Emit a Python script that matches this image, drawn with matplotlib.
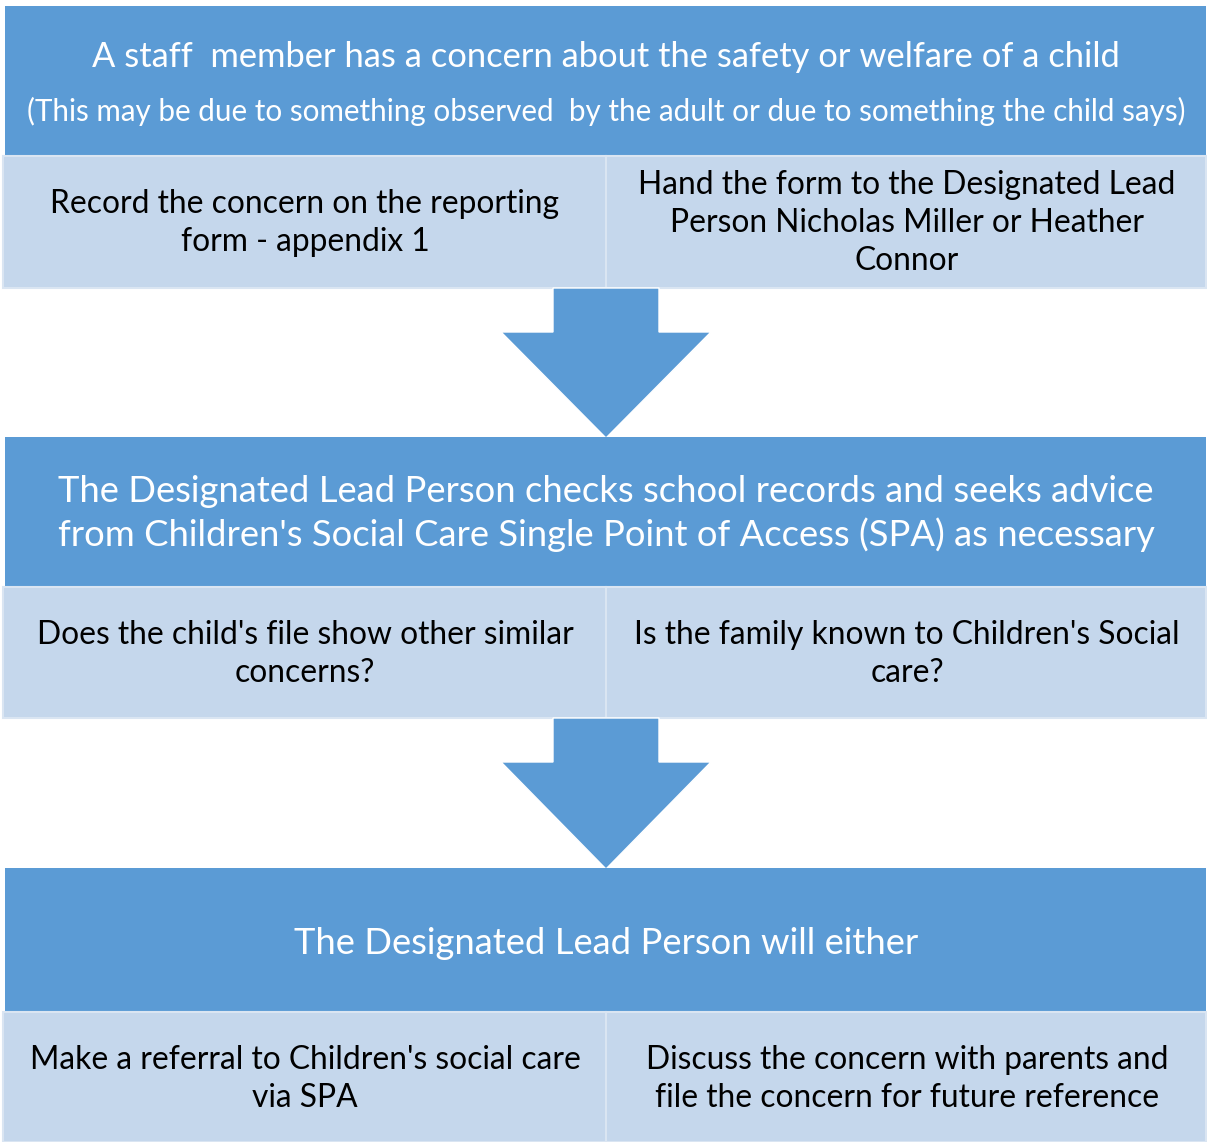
import matplotlib.pyplot as plt
from matplotlib.patches import Rectangle, Polygon

# -----------------------------------------------------------------------------
# Flowchart text
# -----------------------------------------------------------------------------

step_titles = [
    ["A staff  member has a concern about the safety or welfare of a child",
     "(This may be due to something observed  by the adult or due to something the child says)"],
    ["The Designated Lead Person checks school records and seeks advice",
     "from Children's Social Care Single Point of Access (SPA) as necessary"],
    ["The Designated Lead Person will either"],
]

left_notes = [
    ["Record the concern on the reporting", "form - appendix 1"],
    ["Does the child's file show other similar", "concerns?"],
    ["Make a referral to Children's social care", "via SPA"],
]

right_notes = [
    ["Hand the form to the Designated Lead", "Person Nicholas Miller or Heather", "Connor"],
    ["Is the family known to Children's Social", "care?"],
    ["Discuss the concern with parents and", "file the concern for future reference"],
]

DARK = "#5B9BD5"
LIGHT = "#C5D7EC"
EDGE = "#DAE5F2"
FONT = ["Lato", "DejaVu Sans"]

W, H = 1207, 1142

# (dark top, dark bottom, light bottom) for each step, in pixels
rows = [(6, 156, 288), (437, 587, 718), (868, 1012, 1142)]
# title line y-positions, and note line y-positions
title_y = [[57, 111], [491, 535], [943]]
title_size = [[24.8, 21.3], [26.2, 26.2], [26.2]]
note_size = 22.9
left_y = [[204, 242], [635, 673], [1060, 1098]]
right_y = [[185, 223, 261], [635, 673], [1060, 1098]]
split_x = 606


def main():
    fig = plt.figure(figsize=(W / 100, H / 100), dpi=100)
    ax = fig.add_axes([0, 0, 1, 1])
    ax.set_xlim(0, W)
    ax.set_ylim(H, 0)
    ax.axis("off")

    for i, (top, mid, bot) in enumerate(rows):
        ax.add_patch(Rectangle((5, top), W - 6, mid - top, facecolor=DARK,
                               edgecolor="none"))
        ax.add_patch(Rectangle((3, mid), split_x - 3, bot - mid, facecolor=LIGHT,
                               edgecolor=EDGE, linewidth=1.5))
        ax.add_patch(Rectangle((split_x, mid), W - 1 - split_x, bot - mid,
                               facecolor=LIGHT, edgecolor=EDGE, linewidth=1.5))

        for line, y, fs in zip(step_titles[i], title_y[i], title_size[i]):
            ax.text(split_x, y, line, ha="center", va="center", color="white",
                    fontsize=fs, family=FONT)
        for line, y in zip(left_notes[i], left_y[i]):
            ax.text(305, y, line, ha="center", va="center", color="black",
                    fontsize=note_size, family=FONT)
        for line, y in zip(right_notes[i], right_y[i]):
            ax.text(907, y, line, ha="center", va="center", color="black",
                    fontsize=note_size, family=FONT)

        # block arrow down to the next step
        if i < len(rows) - 1:
            y0 = bot
            y1 = rows[i + 1][0] + 1
            yh = y0 + 44
            arrow = [(553, y0), (659, y0), (659, yh), (711, yh),
                     (split_x, y1), (501, yh), (553, yh)]
            ax.add_patch(Polygon(arrow, closed=True, facecolor=DARK,
                                 edgecolor="white", linewidth=1))

    fig.savefig("out.png", dpi=100, facecolor="white")


if __name__ == "__main__":
    main()
